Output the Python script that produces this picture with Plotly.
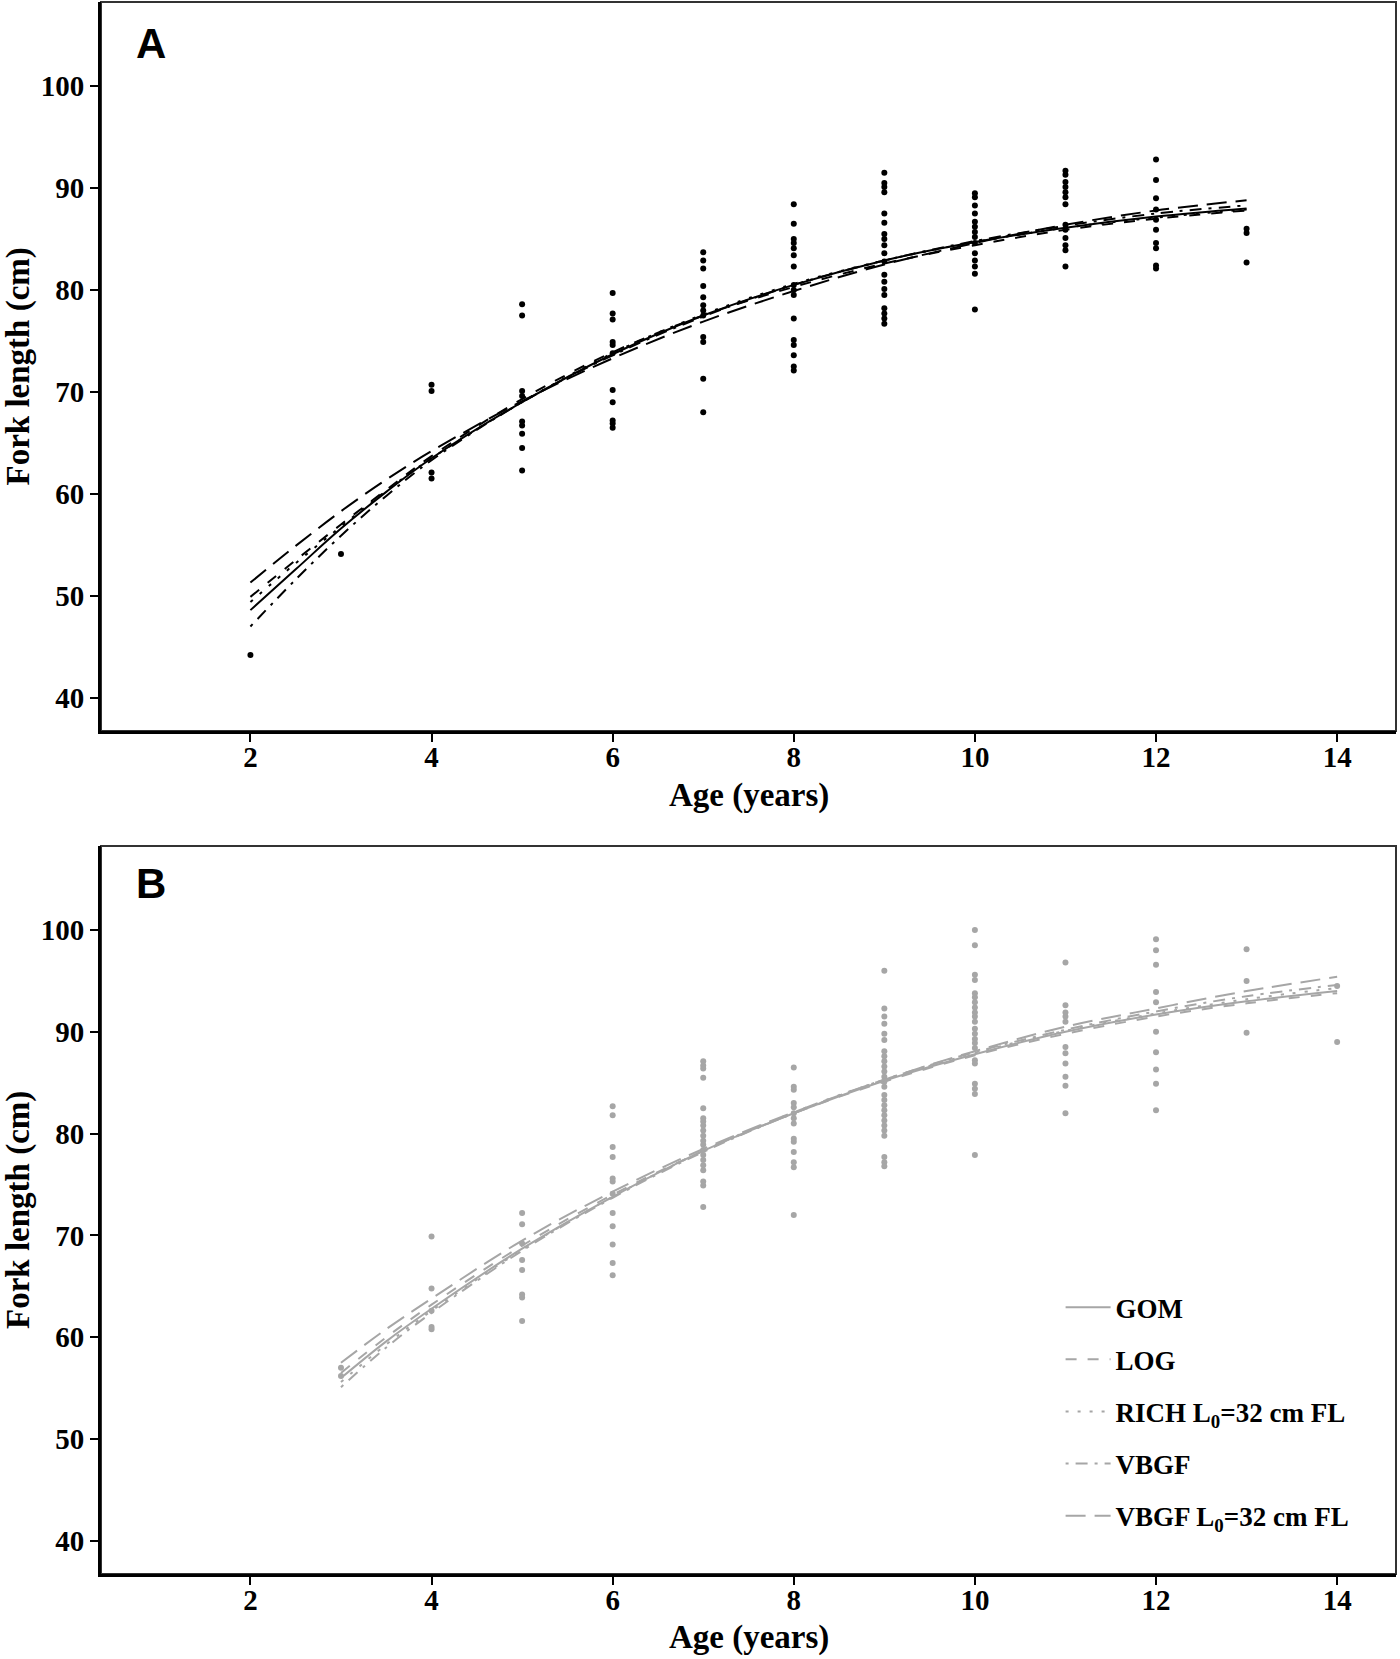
import plotly.graph_objects as go

# ---- observed fork lengths (cm) by age, panel A (black)
ages_a = [2, 3, 4, 5, 6, 7, 8, 9, 10, 11, 12, 13]
fl_a = [
    [44.2],
    [54.1],
    [70.7, 70.1, 62.1, 61.5],
    [78.6, 77.5, 70.1, 69.6, 67.1, 66.7, 65.9, 64.5, 62.3],
    [79.7, 77.7, 77.1, 74.9, 74.6, 73.8, 70.2, 69.0, 67.2, 66.9, 66.5],
    [83.7, 82.9, 82.1, 80.4, 79.3, 78.5, 78.0, 77.5, 75.4, 74.9, 71.3, 68.0],
    [88.4, 86.5, 85.0, 84.6, 84.1, 83.4, 82.3, 80.5, 80.0, 79.5, 77.2, 75.1, 74.6, 73.6, 72.5, 72.1],
    [91.5, 90.5, 90.1, 89.6, 87.5, 86.6, 85.5, 85.0, 84.4, 83.6, 82.8, 81.5, 80.8, 80.1, 79.5,
     78.2, 77.7, 77.2, 76.7],
    [89.5, 89.1, 88.3, 87.5, 86.7, 86.2, 85.7, 85.2, 84.6, 83.6, 82.9, 82.3, 81.6, 78.1],
    [91.7, 91.3, 90.6, 90.1, 89.6, 89.1, 88.4, 86.4, 85.9, 85.1, 84.4, 83.9, 82.3],
    [92.8, 90.8, 89.0, 87.9, 86.9, 85.9, 84.6, 84.1, 82.4, 82.1],
    [86.0, 85.6, 82.7],
]

# ---- observed fork lengths (cm) by age, panel B (grey)
ages_b = [3, 4, 5, 6, 7, 8, 9, 10, 11, 12, 13, 14]
fl_b = [
    [57.0, 56.2],
    [69.9, 64.8, 62.6, 61.0, 60.8],
    [72.2, 71.1, 69.2, 67.6, 66.6, 64.2, 63.9, 61.6],
    [82.7, 81.8, 78.7, 77.7, 75.6, 75.3, 74.1, 72.2, 70.9, 69.1, 67.3, 66.1],
    [87.1, 86.7, 86.4, 85.5, 82.5, 81.5, 81.2, 80.8, 80.3, 79.8, 79.3, 78.9, 78.4, 77.9,
     77.4, 76.9, 76.4, 75.3, 74.9, 72.8],
    [86.5, 84.6, 84.3, 83.0, 82.6, 82.0, 81.5, 81.0, 79.5, 79.2, 78.2, 77.2, 76.7, 72.0],
    [96.0, 92.3, 91.5, 90.8, 89.8, 89.2, 88.1, 87.6, 87.1, 86.6, 86.1, 85.6, 85.1, 84.6,
     83.8, 83.3, 82.8, 82.3, 81.8, 81.3, 80.8, 80.3, 79.8, 77.7, 77.2, 76.8],
    [100.0, 98.5, 95.6, 95.1, 93.8, 93.4, 92.9, 92.4, 91.9, 91.5, 91.0, 90.3, 89.8, 89.3,
     88.9, 88.4, 87.2, 86.9, 84.9, 84.4, 83.9, 77.9],
    [96.8, 92.6, 91.9, 91.5, 91.0, 88.5, 87.9, 86.9, 85.6, 84.7, 82.0],
    [99.1, 98.0, 96.6, 93.9, 92.9, 90.0, 88.0, 86.3, 84.9, 82.3],
    [98.1, 95.0, 89.9],
    [94.5, 89.0],
]

# ---- fitted growth curves
curve_age_a = [2, 2.5, 3, 3.5, 4, 5, 6, 7, 8, 9, 10, 11, 12, 13]
gom_a = [48.6, 52.6, 56.6, 60.2, 63.5, 69.0, 73.7, 77.5, 80.5, 82.9, 84.7, 86.1, 87.2, 88.0]
log_a = [49.9, 53.5, 57.0, 60.4, 63.7, 69.3, 73.9, 77.5, 80.3, 82.6, 84.4, 85.9, 87.0, 87.8]
rich_a = [49.4, 53.2, 56.8, 60.3, 63.5, 69.0, 73.8, 77.6, 80.6, 82.9, 84.7, 86.1, 87.1, 87.9]
vbgf_a = [47.0, 51.6, 55.9, 59.8, 63.3, 69.0, 73.6, 77.4, 80.5, 82.9, 84.8, 86.3, 87.5, 88.3]
vbgf0_a = [51.3, 54.9, 58.3, 61.4, 64.2, 69.1, 73.3, 76.9, 79.9, 82.5, 84.6, 86.4, 87.8, 88.8]

curve_age_b = [3, 3.5, 4, 5, 6, 7, 8, 9, 10, 11, 12, 13, 14]
gom_b = [56.0, 59.6, 62.8, 68.7, 73.8, 78.3, 82.0, 85.2, 87.8, 90.0, 91.7, 93.0, 94.0]
log_b = [56.5, 60.0, 63.2, 69.0, 74.0, 78.3, 82.0, 85.1, 87.7, 89.8, 91.5, 92.8, 93.8]
rich_b = [55.6, 59.3, 62.6, 68.6, 73.8, 78.3, 82.1, 85.3, 87.9, 90.1, 91.8, 93.2, 94.3]
vbgf_b = [55.1, 59.0, 62.4, 68.5, 73.7, 78.2, 82.0, 85.3, 88.0, 90.2, 92.0, 93.5, 94.6]
vbgf0_b = [57.5, 60.8, 63.8, 69.5, 74.3, 78.5, 82.1, 85.3, 88.1, 90.5, 92.3, 94.0, 95.4]

model_names = ["GOM", "LOG", "RICH L<sub>0</sub>=32 cm FL", "VBGF", "VBGF L<sub>0</sub>=32 cm FL"]
model_dash = ["solid", "11px,11px", "3px,9px", "3px,7px,12px,7px", "20px,9px"]

x_ticks = [2, 4, 6, 8, 10, 12, 14]
y_ticks = [40, 50, 60, 70, 80, 90, 100]

GREY = "#a6a6a6"
SERIF = "Liberation Serif"

fig = go.Figure()


def add_points(ages, lengths, color, xa, ya):
    xs, ys = [], []
    for a, vals in zip(ages, lengths):
        xs += [a] * len(vals)
        ys += vals
    fig.add_trace(go.Scatter(x=xs, y=ys, mode="markers", xaxis=xa, yaxis=ya,
                             marker=dict(color=color, size=6), showlegend=False,
                             hoverinfo="x+y"))


def add_curves(ages, curves, color, xa, ya, legend):
    for name, dash, vals in zip(model_names, model_dash, curves):
        fig.add_trace(go.Scatter(x=ages, y=vals, mode="lines", xaxis=xa, yaxis=ya,
                                 name=name, legendgroup=name, showlegend=legend,
                                 line=dict(color=color, width=2, dash=dash, shape="spline")))


add_points(ages_a, fl_a, "black", "x", "y")
add_curves(curve_age_a, [gom_a, log_a, rich_a, vbgf_a, vbgf0_a], "black", "x", "y", False)
add_points(ages_b, fl_b, GREY, "x2", "y2")
add_curves(curve_age_b, [gom_b, log_b, rich_b, vbgf_b, vbgf0_b], GREY, "x2", "y2", True)

tickfont = dict(family=SERIF, size=29, color="black", weight="bold")
xcommon = dict(range=[0.35, 14.65], tickvals=x_ticks, ticks="outside", ticklen=8, tickwidth=2,
               tickcolor="black", showline=True, linewidth=3, linecolor="black",
               showgrid=False, zeroline=False, tickfont=tickfont, ticklabelstandoff=-10)
ycommon = dict(range=[36.75, 108.25], tickvals=y_ticks, ticks="outside", ticklen=8, tickwidth=2,
               tickcolor="black", showline=True, linewidth=3, linecolor="black",
               showgrid=False, zeroline=False, tickfont=tickfont)

dom_a = [0.5363, 1.0]
dom_b = [0.0, 0.4631]

fig.update_layout(
    width=1400, height=1659,
    margin=dict(l=101, r=4, t=2, b=85),
    paper_bgcolor="white", plot_bgcolor="white",
    font=dict(family=SERIF, color="black"),
    xaxis=dict(domain=[0, 1], anchor="y", **xcommon),
    yaxis=dict(domain=dom_a, anchor="x", **ycommon),
    xaxis2=dict(domain=[0, 1], anchor="y2", **xcommon),
    yaxis2=dict(domain=dom_b, anchor="x2", **ycommon),
    legend=dict(x=0.741, y=0.185, xanchor="left", yanchor="top",
                font=dict(family=SERIF, size=27, color="black", weight="bold"),
                bgcolor="rgba(0,0,0,0)", tracegroupgap=14, itemwidth=45),
    showlegend=True,
)

# panel frames (thin top/right border)
for xr, yr in [("x domain", "y domain"), ("x2 domain", "y2 domain")]:
    fig.add_shape(type="rect", xref=xr, yref=yr, x0=0, x1=1, y0=0, y1=1,
                  line=dict(color="#333333", width=2), layer="below")

titlefont = dict(family=SERIF, size=33, color="black", weight="bold")
for yc, xt_y, label, label_y in [((dom_a[0] + dom_a[1]) / 2, 0.4955, "A", 0.9735),
                                 ((dom_b[0] + dom_b[1]) / 2, -0.0407, "B", 0.4392)]:
    fig.add_annotation(text="Fork length (cm)", xref="paper", yref="paper", x=-0.0641, y=yc,
                       textangle=-90, showarrow=False, font=titlefont,
                       xanchor="center", yanchor="middle")
    fig.add_annotation(text="Age (years)", xref="paper", yref="paper", x=0.5, y=xt_y,
                       showarrow=False, font=titlefont, xanchor="center", yanchor="middle")
    fig.add_annotation(text=label, xref="paper", yref="paper", x=0.0386, y=label_y,
                       showarrow=False, xanchor="center", yanchor="middle",
                       font=dict(family="Liberation Sans", size=42, color="black", weight="bold"))

# page body has a default 8px margin; remove it so the figure fills the window
fig.write_html("out.html", config={"displayModeBar": False},
               post_script="document.body.style.margin='0';")
